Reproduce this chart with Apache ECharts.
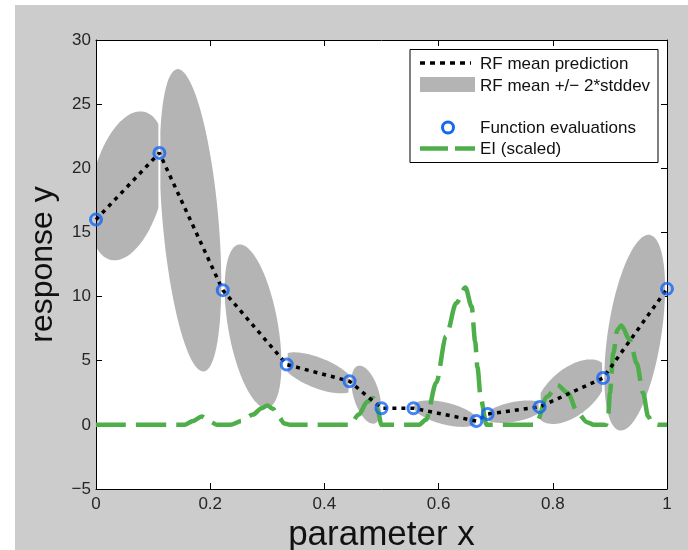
<!DOCTYPE html>
<html>
<head>
<meta charset="utf-8">
<script src="https://cdn.jsdelivr.net/npm/echarts@6/dist/echarts.min.js"></script>
<style>
  html, body { margin: 0; padding: 0; background: #fff; }
  #chart { width: 688px; height: 550px; }
</style>
</head>
<body>
<div id="chart"></div>
<script>
// function evaluations (also the RF mean prediction nodes)
const evalX = [0, 0.111, 0.222, 0.334, 0.444, 0.5, 0.556, 0.666, 0.686, 0.777, 0.888, 1];
const evalY = [16.0, 21.2, 10.5, 4.7, 3.4, 1.3, 1.3, 0.3, 0.85, 1.4, 3.65, 10.6];

// uncertainty ellipses: segment index, major axis end points, minor/major ratio
const bandSeg = [0, 1, 2, 3, 4, 6, 8, 9, 10];
const bandAx = [0.0844, 0.1424, 0.2498, 0.3231, 0.4588, 0.5562, 0.6817, 0.7766, 0.9697];
const bandAy = [24.40, 27.73, 14.05, 5.23, 4.60, 1.50, 0.58, 0.48, 14.81];
const bandBx = [0.0259, 0.1886, 0.3003, 0.4530, 0.4879, 0.6683, 0.7847, 0.8894, 0.9172];
const bandBy = [12.86, 4.16, 1.32, 2.88, 0.11, 0.25, 1.47, 4.69, -0.44];
const bandRatio = [0.47, 0.184, 0.30, 0.375, 0.43, 0.33, 0.33, 0.55, 0.27];

// expected improvement (scaled)
const eiX = [0, 0.155, 0.17, 0.185, 0.2, 0.212, 0.235, 0.255, 0.275, 0.29, 0.3, 0.31, 0.32, 0.33, 0.34,
  0.445, 0.46, 0.475, 0.485, 0.493, 0.5, 0.565, 0.578, 0.596, 0.613, 0.631, 0.647, 0.658, 0.664, 0.668,
  0.674, 0.684, 0.77, 0.79, 0.808, 0.826, 0.844, 0.86, 0.872, 0.893, 0.897, 0.9, 0.906, 0.913, 0.92,
  0.935, 0.947, 0.958, 0.967, 0.975, 0.985, 1];
const eiY = [0, 0, 0.3, 0.65, 0.25, 0, 0, 0.3, 0.8, 1.3, 1.5, 1.25, 0.6, 0.1, 0,
  0, 0.8, 1.8, 2.1, 1.2, 0, 0, 0.4, 3.3, 6.9, 9.5, 10.7, 9.2, 6.5, 4.5,
  2, 0, 0, 2.2, 3.1, 2.5, 0.9, 0.2, 0, 0, 0.7, 2.5, 5.6, 7.4, 7.75,
  6.6, 4.8, 2.5, 0.66, 0.1, 0, 0];

const xTicks = { min: 0, max: 1, interval: 0.2 };
const yTicks = { min: -5, max: 30, interval: 5 };

const FONT = '"Liberation Sans", Arial, sans-serif';
const GREY = '#b4b4b4';
const BLUE = '#1466f5';
const GREEN = '#4dae4a';

const chart = echarts.init(document.getElementById('chart'));

// clip polygon to x >= xc (keepRight) or x <= xc
function clipSide(pts, xc, keepRight) {
  const out = [];
  const inside = p => keepRight ? p[0] >= xc : p[0] <= xc;
  for (let i = 0; i < pts.length; i++) {
    const cur = pts[i];
    const prev = pts[(i - 1 + pts.length) % pts.length];
    const hit = () => {
      const t = (xc - prev[0]) / (cur[0] - prev[0]);
      return [xc, prev[1] + t * (cur[1] - prev[1])];
    };
    if (inside(cur)) {
      if (!inside(prev)) out.push(hit());
      out.push(cur);
    } else if (inside(prev)) {
      out.push(hit());
    }
  }
  return out;
}

function renderBand(params, api) {
  const seg = api.value(0);
  const a = api.coord([api.value(1), api.value(2)]);
  const b = api.coord([api.value(3), api.value(4)]);
  const ratio = api.value(5);
  const left = api.coord([evalX[seg], 0])[0] + 1;
  const right = api.coord([evalX[seg + 1], 0])[0] - 1;
  const cx = (a[0] + b[0]) / 2, cy = (a[1] + b[1]) / 2;
  const dx = (b[0] - a[0]) / 2, dy = (b[1] - a[1]) / 2;
  const semi = Math.hypot(dx, dy);
  const ux = dx / semi, uy = dy / semi;
  const minor = semi * ratio;
  let pts = [];
  for (let i = 0; i < 90; i++) {
    const t = i / 90 * Math.PI * 2;
    const c = Math.cos(t) * semi, s = Math.sin(t) * minor;
    pts.push([cx + ux * c - uy * s, cy + uy * c + ux * s]);
  }
  pts = clipSide(pts, left, true);
  pts = clipSide(pts, right, false);
  return { type: 'polygon', shape: { points: pts }, style: { fill: GREY } };
}

const bandData = bandSeg.map((s, i) => [s, bandAx[i], bandAy[i], bandBx[i], bandBy[i], bandRatio[i]]);
const meanData = evalX.map((x, i) => [x, evalY[i]]);
const eiData = eiX.map((x, i) => [x, eiY[i]]);

const axisCommon = {
  axisLine: { onZero: false, lineStyle: { color: '#000', width: 1 } },
  axisTick: { inside: true, length: 6, lineStyle: { color: '#000' } },
  splitLine: { show: false }
};

const option = {
  animation: false,
  backgroundColor: 'transparent',
  graphic: [
    {
      type: 'rect', z: -10,
      shape: { x: 15, y: 5, width: 673, height: 545 },
      style: { fill: '#cccccc' }
    },
    {
      type: 'group', z: 100,
      children: [
        { type: 'rect', shape: { x: 410, y: 49.5, width: 248, height: 113 },
          style: { fill: '#fff', stroke: '#000', lineWidth: 1 } },
        { type: 'line', shape: { x1: 420, y1: 63, x2: 471, y2: 63 },
          style: { stroke: '#000', lineWidth: 3.5, lineDash: [5, 5] } },
        { type: 'text', style: { text: 'RF mean prediction', x: 480, y: 64, verticalAlign: 'middle',
          fontSize: 17, fontFamily: FONT, fill: '#111' } },
        { type: 'rect', shape: { x: 420, y: 77, width: 55, height: 15 }, style: { fill: GREY } },
        { type: 'text', style: { text: 'RF mean +/\u2212 2*stddev', x: 480, y: 86, verticalAlign: 'middle',
          fontSize: 17, fontFamily: FONT, fill: '#111' } },
        { type: 'circle', shape: { cx: 448, cy: 127.5, r: 5.5 },
          style: { fill: 'none', stroke: BLUE, lineWidth: 3 } },
        { type: 'text', style: { text: 'Function evaluations', x: 480, y: 128, verticalAlign: 'middle',
          fontSize: 17, fontFamily: FONT, fill: '#111' } },
        { type: 'line', shape: { x1: 420, y1: 148.5, x2: 475, y2: 148.5 },
          style: { stroke: GREEN, lineWidth: 4.5, lineDash: [28, 7] } },
        { type: 'text', style: { text: 'EI (scaled)', x: 480, y: 149, verticalAlign: 'middle',
          fontSize: 17, fontFamily: FONT, fill: '#111' } }
      ]
    }
  ],
  grid: {
    left: 96, top: 40, width: 571, height: 449,
    outerBoundsMode: 'none',
    containLabel: false,
    show: true, backgroundColor: '#fff', borderWidth: 0
  },
  xAxis: [
    Object.assign({
      type: 'value', position: 'bottom',
      name: 'parameter x', nameLocation: 'middle', nameGap: 24,
      nameTextStyle: { fontSize: 35, fontFamily: FONT, color: '#111' },
      axisLabel: { margin: 7, fontSize: 17, fontFamily: FONT, color: '#262626' }
    }, xTicks, axisCommon),
    Object.assign({
      type: 'value', position: 'top', axisLabel: { show: false }
    }, xTicks, axisCommon)
  ],
  yAxis: [
    Object.assign({
      type: 'value', position: 'left',
      name: 'response y', nameLocation: 'middle', nameGap: 37,
      nameTextStyle: { fontSize: 32, fontFamily: FONT, color: '#111' },
      axisLabel: {
        margin: 5, fontSize: 17, fontFamily: FONT, color: '#262626',
        formatter: v => v < 0 ? '\u2212' + (-v) : String(v)
      }
    }, yTicks, axisCommon),
    Object.assign({
      type: 'value', position: 'right', axisLabel: { show: false }
    }, yTicks, axisCommon)
  ],
  series: [
    {
      name: 'RF mean +/\u2212 2*stddev',
      type: 'custom',
      renderItem: renderBand,
      clip: true,
      encode: { x: [1, 3], y: [2, 4] },
      data: bandData,
      z: 1
    },
    {
      name: 'EI (scaled)',
      type: 'line',
      data: eiData,
      showSymbol: false,
      smooth: 0.3,
      smoothMonotone: 'x',
      lineStyle: { color: GREEN, width: 4.5, type: [30, 10], cap: 'butt' },
      z: 2
    },
    {
      name: 'RF mean prediction',
      type: 'line',
      data: meanData,
      showSymbol: false,
      lineStyle: { color: '#000', width: 3.5, type: [4, 5], cap: 'butt' },
      z: 3
    },
    {
      name: 'Function evaluations',
      type: 'scatter',
      data: meanData,
      symbol: 'circle',
      symbolSize: 11,
      itemStyle: { color: 'rgba(0,0,0,0)', borderColor: BLUE, borderWidth: 3 },
      z: 4
    }
  ]
};

chart.setOption(option);
</script>
</body>
</html>
